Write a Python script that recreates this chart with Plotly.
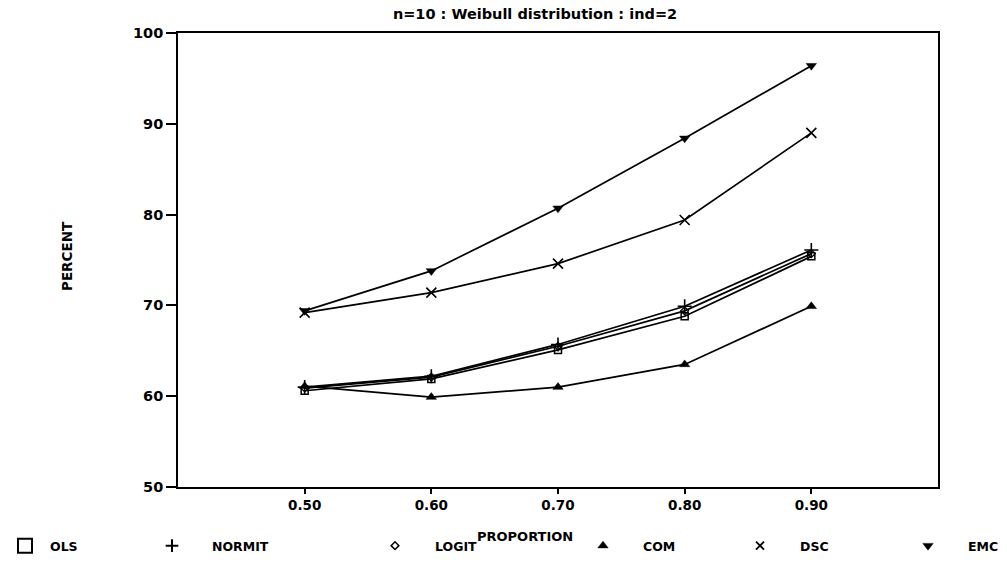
import plotly.graph_objects as go

# Proportion levels on the horizontal axis
proportion = [0.50, 0.60, 0.70, 0.80, 0.90]

# Percent values for each estimation method
ols = [60.6, 61.9, 65.1, 68.8, 75.4]
normit = [61.0, 62.2, 65.7, 69.9, 76.1]
logit = [60.9, 62.1, 65.5, 69.4, 75.7]
com = [61.1, 59.9, 61.0, 63.5, 69.9]
dsc = [69.2, 71.4, 74.6, 79.4, 89.0]
emc = [69.4, 73.8, 80.7, 88.4, 96.4]

method_names = ["OLS", "NORMIT", "LOGIT", "COM", "DSC", "EMC"]
x_tick_labels = ["0.50", "0.60", "0.70", "0.80", "0.90"]
y_tick_values = [50, 60, 70, 80, 90, 100]

series = [ols, normit, logit, com, dsc, emc]

# marker style per method
styles = [
    dict(symbol="square-open", size=7, line=dict(width=1.5, color="black")),
    dict(symbol="cross-thin", size=10, line=dict(width=1.6, color="black")),
    dict(symbol="diamond-open", size=6, line=dict(width=1.3, color="black")),
    dict(symbol="triangle-up", size=9, line=dict(width=0.5, color="black")),
    dict(symbol="x-thin", size=10, line=dict(width=1.6, color="black")),
    dict(symbol="triangle-down", size=9, line=dict(width=0.5, color="black")),
]
legend_styles = [
    dict(symbol="square-open", size=14, line=dict(width=2, color="black")),
    dict(symbol="cross-thin", size=9, line=dict(width=2, color="black")),
    dict(symbol="diamond-open", size=6, line=dict(width=1.5, color="black")),
    dict(symbol="triangle-up", size=9, line=dict(width=0.5, color="black")),
    dict(symbol="x-thin", size=8, line=dict(width=1.8, color="black")),
    dict(symbol="triangle-down", size=9, line=dict(width=0.5, color="black")),
]
# left edge (px) and item width of each legend entry along the bottom row
legend_left_px = [0, 132, 355, 563, 720, 888]
legend_item_w = [40, 70, 70, 70, 70, 70]

W, H = 1007, 567
fig = go.Figure()

for name, vals, st in zip(method_names, series, styles):
    fig.add_trace(go.Scatter(
        x=proportion, y=vals, mode="lines+markers", name=name,
        line=dict(color="black", width=1.7),
        marker=dict(color="black", **st),
        showlegend=False,
    ))

legend_layouts = {}
for i, (name, st) in enumerate(zip(method_names, legend_styles)):
    key = "legend" if i == 0 else f"legend{i + 1}"
    fig.add_trace(go.Scatter(
        x=[None], y=[None], mode="markers", name=name,
        marker=dict(color="black", **st),
        showlegend=True, legend=key,
    ))
    legend_layouts[key] = dict(
        xref="container", yref="container",
        x=legend_left_px[i] / W, y=1 - 546 / H,
        xanchor="left", yanchor="middle",
        bgcolor="rgba(0,0,0,0)", borderwidth=0,
        itemwidth=legend_item_w[i],
        font=dict(family="DejaVu Sans", size=12.5, color="black", weight="bold"),
        itemsizing="trace",
    )

fig.update_layout(
    width=W, height=H,
    paper_bgcolor="white", plot_bgcolor="white",
    margin=dict(l=178, r=69, t=33, b=80, autoexpand=False),
    font=dict(family="DejaVu Sans", size=12, color="black", weight="bold"),
    title=dict(
        text="n=10 : Weibull distribution : ind=2",
        xref="container", yref="container",
        x=535 / W, y=1 - 14 / H, xanchor="center", yanchor="middle",
        font=dict(family="DejaVu Sans", size=14.5, color="black", weight="bold"),
    ),
    xaxis=dict(
        range=[0.4, 1.0], tickvals=proportion, ticktext=x_tick_labels,
        ticks="outside", ticklen=5, tickwidth=1.5, tickcolor="black",
        showline=True, linecolor="black", linewidth=1.7, mirror=True,
        showgrid=False, zeroline=False, tickangle=0,
        tickfont=dict(size=13.5),
    ),
    yaxis=dict(
        range=[50, 100], tickvals=y_tick_values,
        ticks="outside", ticklen=10, tickwidth=1.5, tickcolor="black",
        showline=True, linecolor="black", linewidth=1.7, mirror=True,
        showgrid=False, zeroline=False,
        tickfont=dict(size=14.5),
    ),
    annotations=[
        dict(text="PROPORTION", xref="paper", yref="paper",
             x=(525 - 178) / 760, y=-(536 - 487) / 454,
             xanchor="center", yanchor="middle", showarrow=False,
             font=dict(size=13)),
        dict(text="PERCENT", xref="paper", yref="paper",
             x=(67 - 178) / 760, y=(487 - 256) / 454, textangle=-90,
             xanchor="center", yanchor="middle", showarrow=False,
             font=dict(size=13.5)),
    ],
    **legend_layouts,
)

fig.write_html("out.html")
